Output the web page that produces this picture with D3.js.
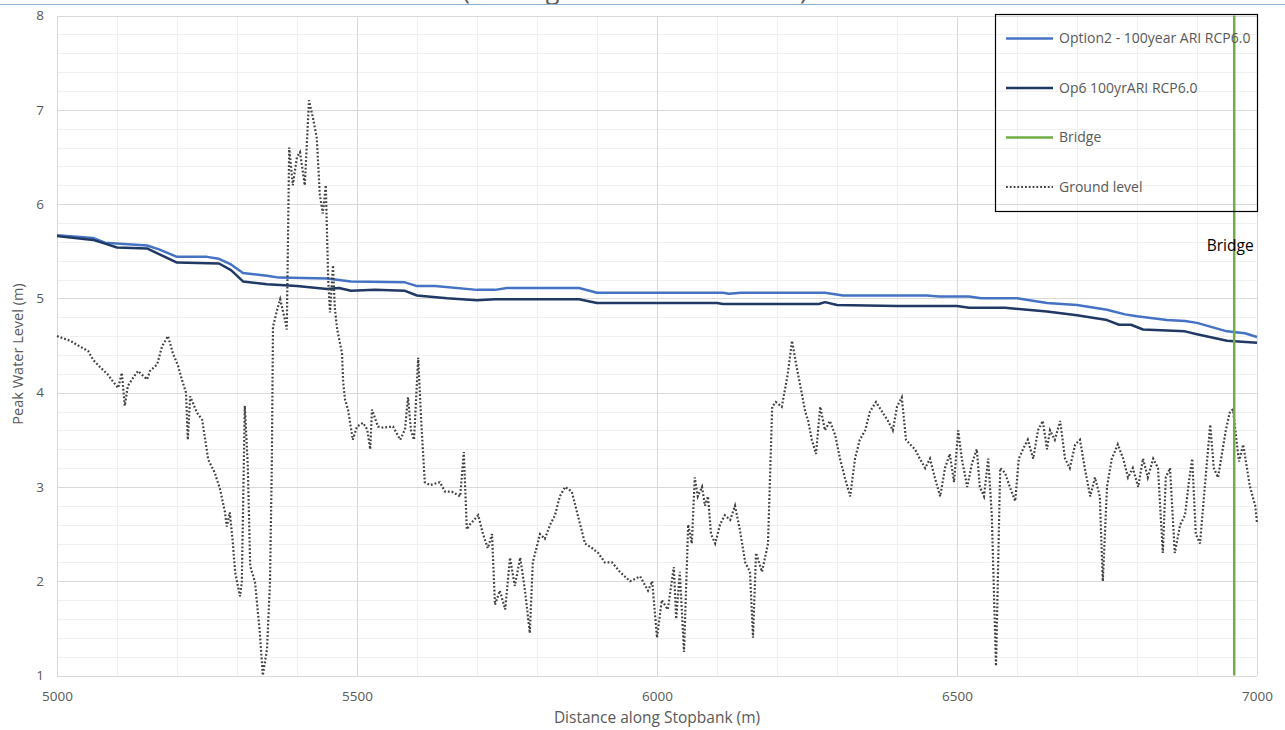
<!DOCTYPE html>
<html>
<head>
<meta charset="utf-8">
<script src="https://cdn.jsdelivr.net/npm/d3@7"></script>
<style>
  html, body { margin: 0; padding: 0; background: #ffffff; }
  svg { display: block; font-family: "Open Sans", "Noto Sans", sans-serif; }
</style>
</head>
<body>
<svg id="chart" width="1285" height="730"></svg>
<script>
// ---- Data: distance along stopbank (m) and peak water / ground level (m) ----
const option2Profile = [
  [5000, 5.67], [5060, 5.64], [5080, 5.59], [5150, 5.56], [5170, 5.52], [5200, 5.44],
  [5250, 5.44], [5270, 5.42], [5290, 5.36], [5310, 5.27], [5350, 5.24], [5370, 5.22],
  [5450, 5.21], [5490, 5.18], [5580, 5.17], [5600, 5.13], [5630, 5.13], [5700, 5.09],
  [5730, 5.09], [5750, 5.11], [5870, 5.11], [5900, 5.06], [6110, 5.06], [6120, 5.05],
  [6140, 5.06], [6280, 5.06], [6310, 5.03], [6450, 5.03], [6470, 5.02], [6520, 5.02],
  [6540, 5.00], [6600, 5.00], [6650, 4.95], [6700, 4.93], [6750, 4.88], [6780, 4.83],
  [6800, 4.81], [6850, 4.77], [6880, 4.76], [6900, 4.74], [6950, 4.65], [6980, 4.63],
  [7000, 4.59]
];

const op6Profile = [
  [5000, 5.66], [5060, 5.62], [5080, 5.58], [5100, 5.54], [5150, 5.53], [5170, 5.47],
  [5200, 5.38], [5270, 5.37], [5290, 5.30], [5310, 5.18], [5350, 5.15], [5400, 5.13],
  [5450, 5.10], [5470, 5.11], [5490, 5.08], [5530, 5.09], [5580, 5.08], [5600, 5.03],
  [5650, 5.00], [5700, 4.98], [5730, 4.99], [5870, 4.99], [5900, 4.95], [6100, 4.95],
  [6110, 4.94], [6270, 4.94], [6280, 4.96], [6300, 4.93], [6400, 4.92], [6500, 4.92],
  [6520, 4.90], [6580, 4.90], [6650, 4.86], [6700, 4.82], [6750, 4.77], [6770, 4.72],
  [6790, 4.72], [6810, 4.67], [6850, 4.66], [6880, 4.65], [6900, 4.62], [6950, 4.55],
  [7000, 4.53]
];

const groundProfile = [
  [5000, 4.60], [5022, 4.55], [5038, 4.49], [5052, 4.44], [5060, 4.35], [5072, 4.27],
  [5085, 4.19], [5093, 4.12], [5102, 4.05], [5108, 4.21], [5113, 3.86], [5118, 4.07],
  [5127, 4.16], [5135, 4.23], [5150, 4.14], [5155, 4.23], [5167, 4.30], [5175, 4.49],
  [5185, 4.60], [5193, 4.42], [5202, 4.28], [5208, 4.14], [5215, 4.00], [5218, 3.50],
  [5222, 3.96], [5233, 3.79], [5242, 3.71], [5252, 3.29], [5263, 3.15], [5272, 2.97],
  [5280, 2.73], [5283, 2.58], [5288, 2.73], [5293, 2.41], [5297, 2.09], [5305, 1.84],
  [5308, 1.99], [5313, 3.86], [5318, 3.22], [5322, 2.16], [5330, 1.99], [5338, 1.46],
  [5343, 1.00], [5350, 1.28], [5355, 1.99], [5358, 3.22], [5360, 4.70], [5367, 4.88],
  [5372, 4.99], [5380, 4.77], [5383, 4.67], [5387, 6.60], [5393, 6.20], [5400, 6.50],
  [5405, 6.55], [5413, 6.20], [5420, 7.10], [5427, 6.90], [5433, 6.70], [5438, 6.10],
  [5443, 5.90], [5448, 6.20], [5452, 5.20], [5455, 4.85], [5460, 5.35], [5463, 4.90],
  [5467, 4.67], [5475, 4.42], [5477, 4.11], [5480, 3.93], [5485, 3.82], [5493, 3.50],
  [5500, 3.64], [5510, 3.68], [5517, 3.61], [5522, 3.40], [5525, 3.82], [5535, 3.64],
  [5543, 3.63], [5560, 3.64], [5572, 3.50], [5580, 3.61], [5585, 3.95], [5590, 3.60],
  [5595, 3.50], [5602, 4.37], [5607, 3.70], [5613, 3.05], [5622, 3.02], [5638, 3.05],
  [5647, 2.95], [5658, 2.95], [5672, 2.90], [5678, 3.37], [5683, 2.55], [5688, 2.60],
  [5702, 2.70], [5710, 2.50], [5718, 2.35], [5725, 2.50], [5730, 1.75], [5738, 1.90],
  [5747, 1.70], [5755, 2.25], [5763, 1.95], [5772, 2.25], [5780, 1.90], [5788, 1.45],
  [5793, 2.20], [5805, 2.50], [5813, 2.45], [5822, 2.60], [5830, 2.70], [5838, 2.90],
  [5847, 3.00], [5858, 2.95], [5868, 2.70], [5880, 2.40], [5892, 2.35], [5902, 2.30],
  [5913, 2.20], [5925, 2.20], [5938, 2.10], [5955, 2.00], [5972, 2.05], [5985, 1.90],
  [5992, 2.00], [6000, 1.40], [6008, 1.80], [6018, 1.70], [6028, 2.15], [6032, 1.60],
  [6038, 2.10], [6045, 1.25], [6052, 2.60], [6058, 2.40], [6063, 3.10], [6068, 2.90],
  [6075, 3.00], [6080, 2.80], [6085, 2.90], [6090, 2.50], [6097, 2.40], [6105, 2.60],
  [6113, 2.70], [6122, 2.65], [6130, 2.80], [6138, 2.55], [6147, 2.20], [6155, 2.10],
  [6160, 1.40], [6165, 2.30], [6175, 2.10], [6185, 2.40], [6192, 3.85], [6198, 3.90],
  [6208, 3.85], [6218, 4.20], [6225, 4.55], [6232, 4.30], [6238, 4.10], [6247, 3.80],
  [6252, 3.70], [6258, 3.50], [6265, 3.35], [6272, 3.85], [6280, 3.60], [6288, 3.70],
  [6297, 3.55], [6305, 3.30], [6313, 3.10], [6322, 2.90], [6330, 3.30], [6338, 3.50],
  [6347, 3.60], [6355, 3.80], [6365, 3.90], [6375, 3.80], [6385, 3.70], [6393, 3.60],
  [6400, 3.85], [6408, 3.95], [6415, 3.50], [6422, 3.45], [6430, 3.40], [6438, 3.30],
  [6447, 3.20], [6455, 3.30], [6463, 3.10], [6472, 2.90], [6480, 3.20], [6488, 3.35],
  [6495, 3.05], [6502, 3.60], [6508, 3.30], [6517, 3.00], [6525, 3.25], [6533, 3.40],
  [6538, 3.00], [6545, 2.90], [6552, 3.30], [6558, 2.70], [6565, 1.10], [6572, 3.20],
  [6580, 3.15], [6588, 3.00], [6597, 2.85], [6603, 3.30], [6610, 3.40], [6618, 3.50],
  [6627, 3.30], [6635, 3.60], [6643, 3.70], [6650, 3.40], [6655, 3.60], [6663, 3.50],
  [6672, 3.70], [6680, 3.30], [6688, 3.20], [6697, 3.45], [6705, 3.50], [6713, 3.20],
  [6722, 2.90], [6730, 3.10], [6738, 2.90], [6743, 2.00], [6750, 3.00], [6758, 3.30],
  [6768, 3.45], [6777, 3.30], [6785, 3.10], [6793, 3.20], [6802, 3.00], [6810, 3.30],
  [6818, 3.10], [6827, 3.30], [6835, 3.20], [6843, 2.30], [6848, 3.10], [6855, 3.20],
  [6863, 2.30], [6872, 2.60], [6880, 2.70], [6887, 3.08], [6892, 3.30], [6898, 2.50],
  [6905, 2.40], [6913, 3.00], [6922, 3.66], [6928, 3.20], [6935, 3.10], [6942, 3.37],
  [6948, 3.60], [6955, 3.80], [6960, 3.82], [6967, 3.43], [6970, 3.27], [6977, 3.45],
  [6988, 3.01], [6997, 2.80], [7000, 2.62]
];

const bridgeDistance = 6962;
const bridgeLabelLevel = 5.56;

const xTickValues = [5000, 5500, 6000, 6500, 7000];
const yTickValues = [1, 2, 3, 4, 5, 6, 7, 8];

const seriesNames = ["Option2 - 100year ARI RCP6.0", "Op6 100yrARI RCP6.0", "Bridge", "Ground level"];
const seriesColors = ["#4472c4", "#203864", "#70ad47", "#404040"];

const chartTitle = "(Existing Crest Level Scenario)";
const xAxisTitle = "Distance along Stopbank (m)";
const yAxisTitle = "Peak Water Level (m)";

// ---- Layout ----
const svg = d3.select("#chart");
const plot = { left: 57, right: 1257, top: 15.5, bottom: 675.5 };

const x = d3.scaleLinear().domain([5000, 7000]).range([plot.left, plot.right]);
const y = d3.scaleLinear().domain([1, 8]).range([plot.bottom, plot.top]);

// Title (runs off the top edge of the frame; only its descenders show)
svg.append("text")
  .attr("x", 635).attr("y", -1)
  .attr("text-anchor", "middle")
  .attr("font-size", 25)
  .attr("fill", "#595959")
  .text(chartTitle);

// Thin frame line across the top
svg.append("line")
  .attr("x1", 0).attr("x2", 1285).attr("y1", 4.5).attr("y2", 4.5)
  .attr("stroke", "#8eb0d3").attr("stroke-width", 1.2);

// ---- Gridlines ----
const grid = svg.append("g").attr("shape-rendering", "crispEdges");
const minorX = d3.range(5000, 7001, 100).filter(v => v % 500 !== 0);
const minorY = d3.range(1, 8.001, 0.2).map(v => +v.toFixed(1)).filter(v => Math.abs(v - Math.round(v)) > 1e-6);

grid.selectAll(".minor-x").data(minorX).join("line")
  .attr("x1", d => Math.round(x(d)) + 0.5).attr("x2", d => Math.round(x(d)) + 0.5)
  .attr("y1", plot.top).attr("y2", plot.bottom)
  .attr("stroke", "#f0f0f0").attr("stroke-width", 1.5);
grid.selectAll(".minor-y").data(minorY).join("line")
  .attr("y1", d => Math.round(y(d)) + 0.5).attr("y2", d => Math.round(y(d)) + 0.5)
  .attr("x1", plot.left).attr("x2", plot.right)
  .attr("stroke", "#f0f0f0").attr("stroke-width", 1.5);
grid.selectAll(".major-x").data(xTickValues).join("line")
  .attr("x1", d => Math.round(x(d)) + 0.5).attr("x2", d => Math.round(x(d)) + 0.5)
  .attr("y1", plot.top).attr("y2", plot.bottom)
  .attr("stroke", "#d9d9d9").attr("stroke-width", 1.5);
grid.selectAll(".major-y").data(yTickValues).join("line")
  .attr("y1", d => Math.round(y(d)) + 0.5).attr("y2", d => Math.round(y(d)) + 0.5)
  .attr("x1", plot.left).attr("x2", plot.right)
  .attr("stroke", "#d9d9d9").attr("stroke-width", 1.5);

// ---- Axes (labels only; the frame comes from the gridlines) ----
const xAxis = svg.append("g")
  .attr("transform", `translate(0,${plot.bottom})`)
  .call(d3.axisBottom(x).tickValues(xTickValues).tickSize(0).tickPadding(16).tickFormat(d3.format("d")));
const yAxis = svg.append("g")
  .attr("transform", `translate(${plot.left},0)`)
  .call(d3.axisLeft(y).tickValues(yTickValues).tickSize(0).tickPadding(13).tickFormat(d3.format("d")));
[xAxis, yAxis].forEach(a => {
  a.select(".domain").remove();
  a.selectAll("text").attr("fill", "#595959").attr("font-size", 13.5)
    .attr("font-family", "\"Open Sans\", sans-serif");
});

svg.append("text")
  .attr("x", 657).attr("y", 723)
  .attr("text-anchor", "middle").attr("font-size", 15.5).attr("fill", "#595959")
  .text(xAxisTitle);
svg.append("text")
  .attr("transform", "translate(23,354) rotate(-90)")
  .attr("text-anchor", "middle").attr("font-size", 14.5).attr("fill", "#595959")
  .text(yAxisTitle);

// ---- Series ----
const line = d3.line().x(d => x(d[0])).y(d => y(d[1]));

svg.append("path").datum(option2Profile)
  .attr("d", line).attr("fill", "none")
  .attr("stroke", seriesColors[0]).attr("stroke-width", 2.5).attr("stroke-linejoin", "round");
svg.append("path").datum(op6Profile)
  .attr("d", line).attr("fill", "none")
  .attr("stroke", seriesColors[1]).attr("stroke-width", 2.5).attr("stroke-linejoin", "round");
svg.append("path").datum(groundProfile)
  .attr("d", line).attr("fill", "none")
  .attr("stroke", seriesColors[3]).attr("stroke-width", 2.2)
  .attr("stroke-dasharray", "1.8 2");

// Bridge marker
svg.append("line")
  .attr("x1", x(bridgeDistance)).attr("x2", x(bridgeDistance))
  .attr("y1", y(8)).attr("y2", y(1))
  .attr("stroke", seriesColors[2]).attr("stroke-width", 2.5);
svg.append("text")
  .attr("x", x(bridgeDistance) - 4).attr("y", y(bridgeLabelLevel) + 5)
  .attr("text-anchor", "middle").attr("font-size", 15.5).attr("fill", "#000000")
  .text(seriesNames[2]);

// ---- Legend ----
const legend = svg.append("g");
legend.append("rect")
  .attr("x", 995.5).attr("y", 14.5).attr("width", 262).attr("height", 197)
  .attr("fill", "none").attr("stroke", "#000000").attr("stroke-width", 1.2);
const legendRows = [38.5, 88, 137.5, 187];
seriesNames.forEach((name, i) => {
  const row = legend.append("g").attr("transform", `translate(0,${legendRows[i]})`);
  row.append("line")
    .attr("x1", 1006).attr("x2", 1053).attr("y1", 0).attr("y2", 0)
    .attr("stroke", seriesColors[i])
    .attr("stroke-width", i === 3 ? 2.2 : 2.5)
    .attr("stroke-dasharray", i === 3 ? "1.8 2" : null);
  row.append("text")
    .attr("x", 1059).attr("y", 0).attr("dy", "0.35em")
    .attr("font-size", 14).attr("fill", "#595959")
    .text(name);
});
</script>
</body>
</html>
